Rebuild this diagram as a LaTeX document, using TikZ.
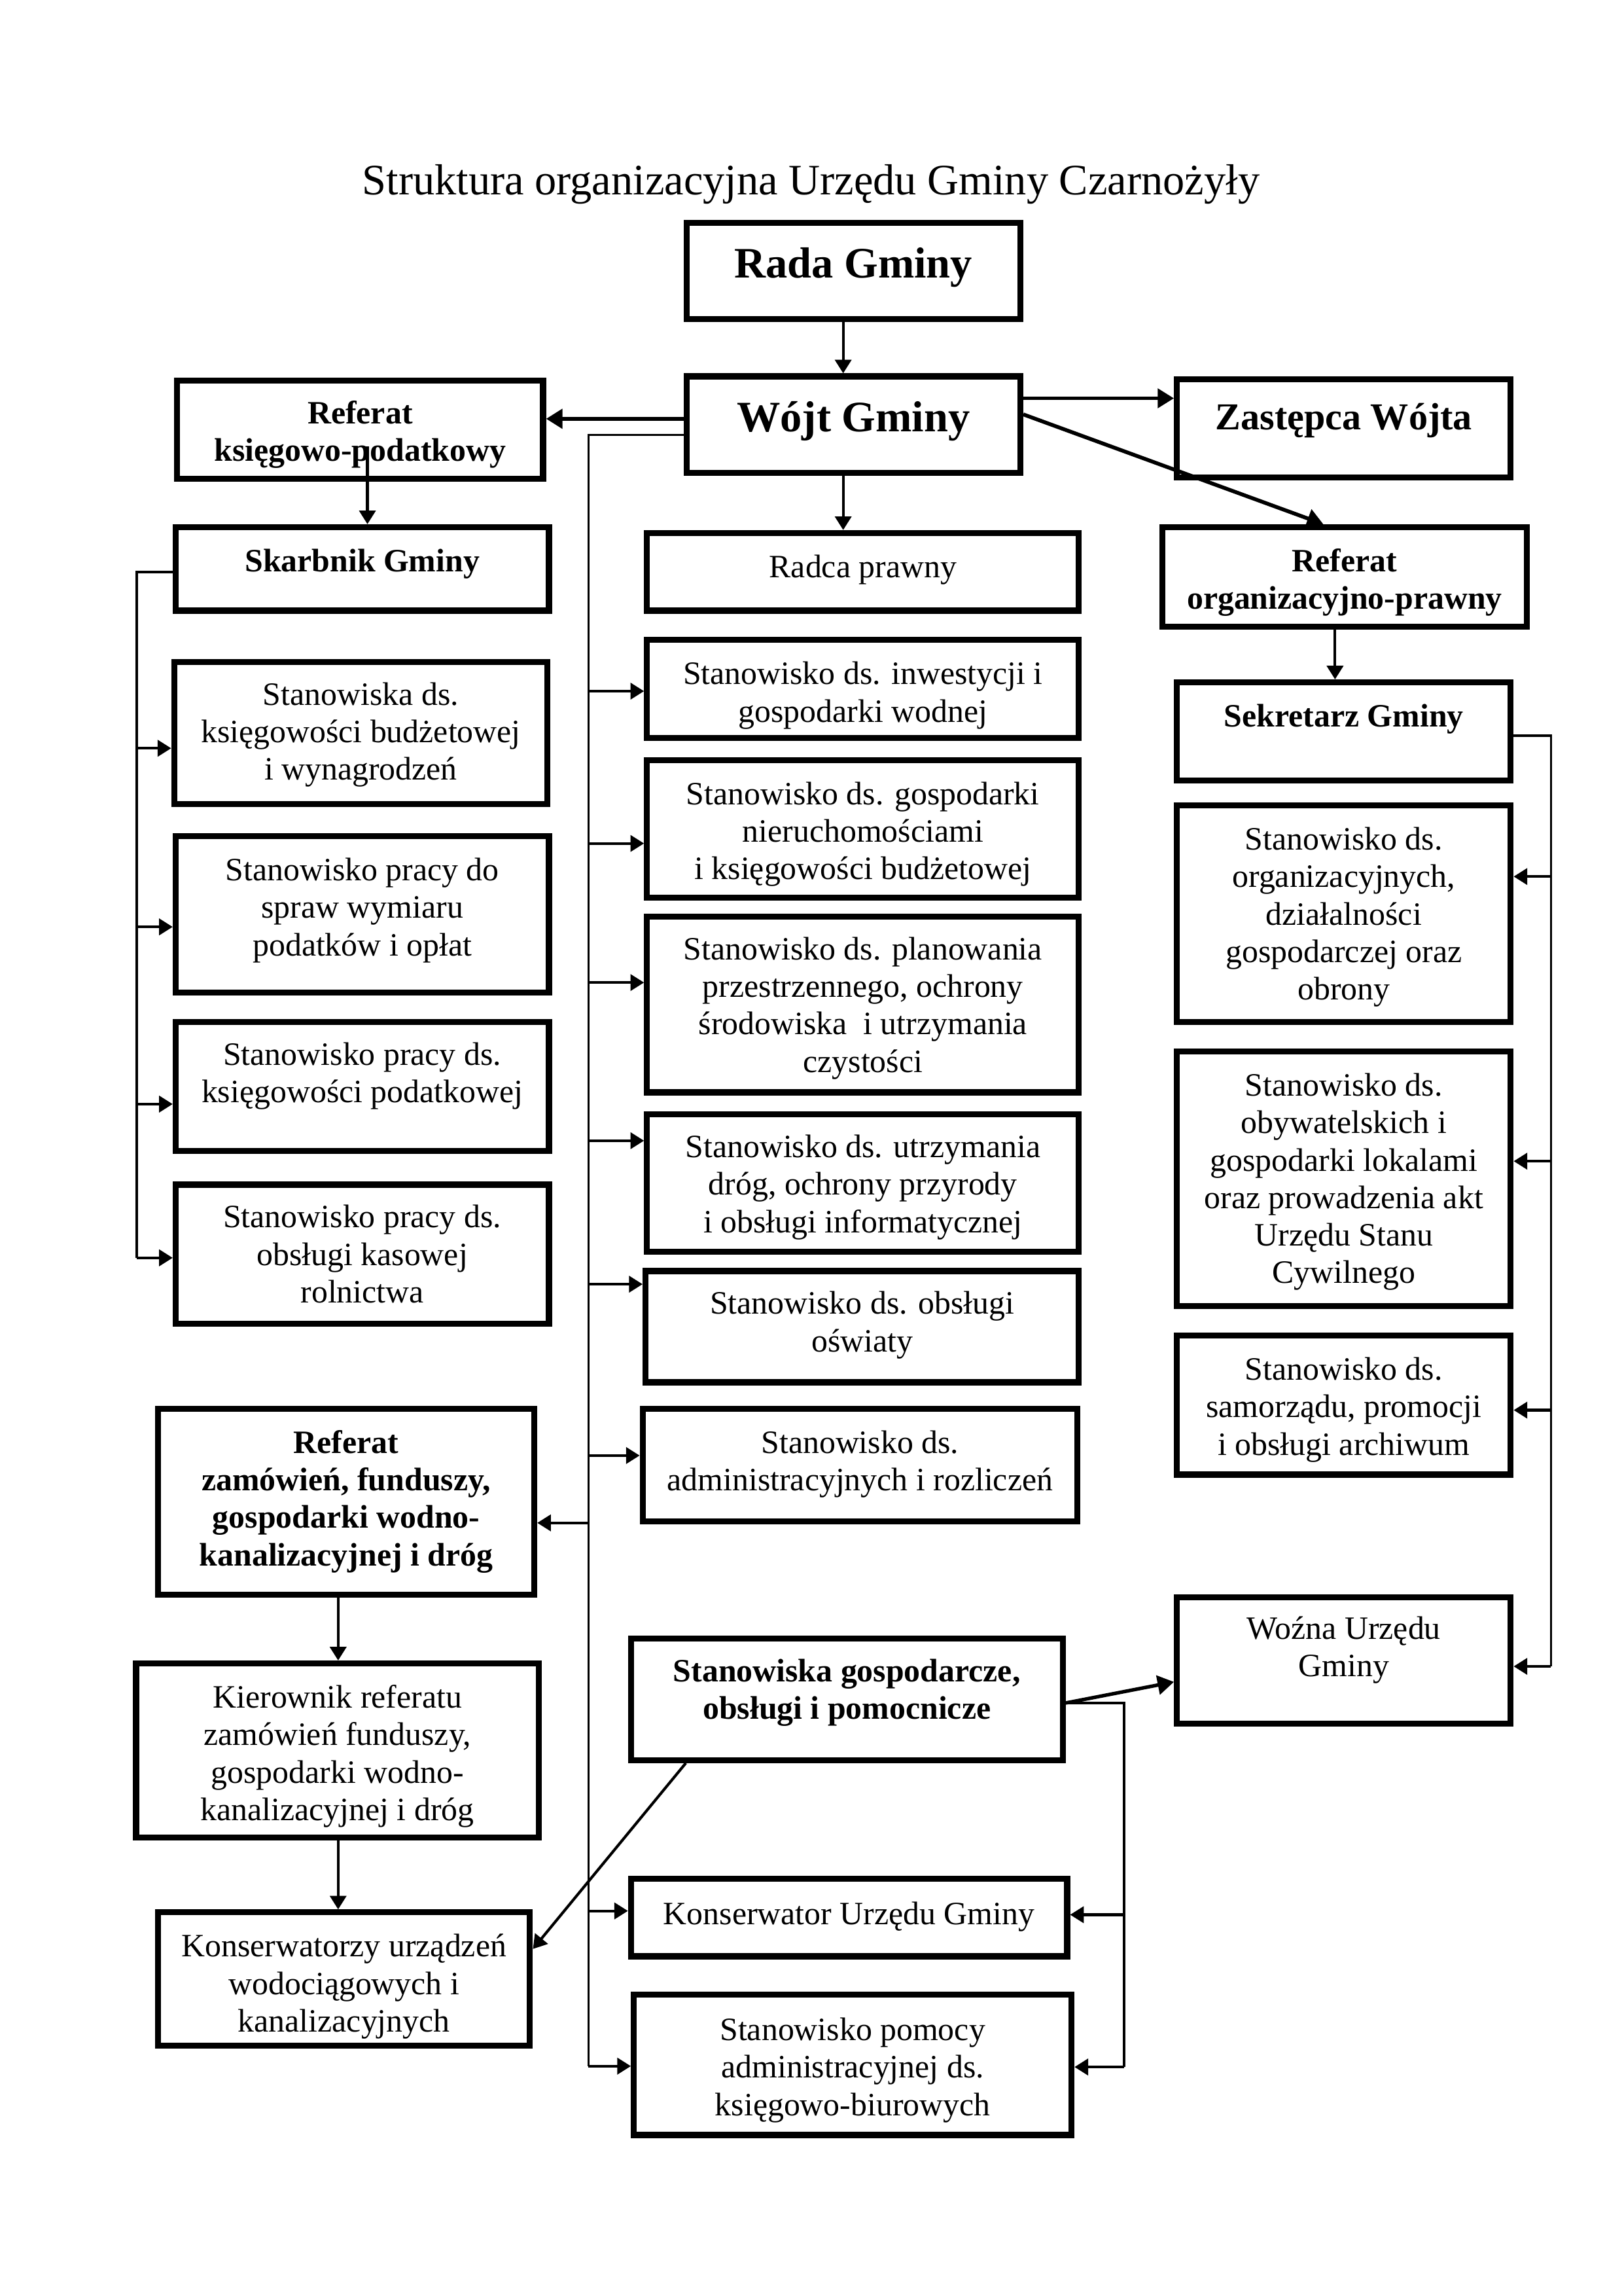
\documentclass[tikz,border=0pt]{standalone}
\usepackage{fontspec}
\setmainfont{Liberation Serif}
\usetikzlibrary{arrows.meta}
\newdimen\pxu \pxu=0.189359mm
\newcommand\tb[4]{\parbox[c][#2\pxu][t]{#1\pxu}{\centering\vspace*{#3\pxu}\strut#4\par}}
\tikzset{
  bx/.style={draw, line width=2.2pt, inner sep=0pt, font=\fontsize{12}{13.8}\selectfont},
  bxb/.style={bx, font=\fontsize{12}{13.8}\selectfont\bfseries},
  bxbig/.style={bx, font=\fontsize{16}{18.4}\selectfont\bfseries},
  bxmid/.style={bx, font=\fontsize{14}{16.1}\selectfont\bfseries},
  bus/.style={line width=0.9pt},
  arr/.style={line width=1pt, -{Triangle[length=5pt,width=6pt]}},
  tarr/.style={line width=1.4pt, -{Triangle[length=6pt,width=7pt]}},
}
\begin{document}
\begin{tikzpicture}[x=0.189359mm, y=-0.189359mm]
\useasboundingbox (0,0) rectangle (1109,1568);
\node[anchor=base, font=\fontsize{16}{18.4}\selectfont] (title) at (554,133) {Struktura organizacyjna Urzędu Gminy Czarnożyły};

% top
\node[bxbig] (rada) at (583,185) {\tb{228}{66}{14}{Rada Gminy}};
\node[bxbig] (wojt) at (583,290) {\tb{228}{66}{14}{Wójt Gminy}};
\node[bxmid] (zast) at (918,292.5) {\tb{228}{67}{13.6}{Zastępca Wójta}};
\node[bxb] (refks) at (246,293.5) {\tb{250}{67}{11.5}{Referat\\ księgowo-podatkowy}};
\node[bxb] (skarb) at (247.5,388.5) {\tb{255}{57}{12.5}{Skarbnik Gminy}};
\node[bx] (radca) at (589.5,390.5) {\tb{295}{53}{12.5}{Radca prawny}};
\node[bxb] (reforg) at (918.5,394) {\tb{249}{68}{12.5}{Referat\\ organizacyjno-prawny}};

% left column
\node[bx] (ks1) at (246.5,500.5) {\tb{255}{97}{11.5}{Stanowiska ds.\\ księgowości budżetowej\\ i wynagrodzeń}};
\node[bx] (ks2) at (247.5,624.5) {\tb{255}{107}{12.5}{Stanowisko pracy do\\ spraw wymiaru\\ podatków i opłat}};
\node[bx] (ks3) at (247.5,742) {\tb{255}{88}{11.5}{Stanowisko pracy ds.\\ księgowości podatkowej}};
\node[bx] (ks4) at (247.5,856.5) {\tb{255}{95}{11.5}{Stanowisko pracy ds.\\ obsługi kasowej\\ rolnictwa}};

% middle column
\node[bx] (m1) at (589.5,470.5) {\tb{295}{67}{12.5}{Stanowisko ds. inwestycji i\\ gospodarki wodnej}};
\node[bx] (m2) at (589.5,566) {\tb{295}{94}{12.5}{Stanowisko ds. gospodarki\\ nieruchomościami\\ i księgowości budżetowej}};
\node[bx] (m3) at (589.5,686) {\tb{295}{120}{11.5}{Stanowisko ds. planowania\\ przestrzennego, ochrony\\ środowiska~ i utrzymania\\ czystości}};
\node[bx] (m4) at (589.5,808) {\tb{295}{94}{11.5}{Stanowisko ds. utrzymania\\ dróg, ochrony przyrody\\ i obsługi informatycznej}};
\node[bx] (m5) at (589,906) {\tb{296}{76}{11.5}{Stanowisko ds. obsługi\\ oświaty}};
\node[bx] (m6) at (587.5,1000.5) {\tb{297}{77}{12.5}{Stanowisko ds.\\ administracyjnych i rozliczeń}};

% right column
\node[bxb] (sek) at (918,499.5) {\tb{228}{67}{12.5}{Sekretarz Gminy}};
\node[bx] (r1) at (918,624) {\tb{228}{148}{12.5}{Stanowisko ds.\\ organizacyjnych,\\ działalności\\ gospodarczej oraz\\ obrony}};
\node[bx] (r2) at (918,805) {\tb{228}{174}{12.5}{Stanowisko ds.\\ obywatelskich i\\ gospodarki lokalami\\ oraz prowadzenia akt\\ Urzędu Stanu\\ Cywilnego}};
\node[bx] (r3) at (918,959.5) {\tb{228}{95}{12.5}{Stanowisko ds.\\ samorządu, promocji\\ i obsługi archiwum}};
\node[bx] (wozna) at (918,1134) {\tb{228}{86}{10.5}{Woźna Urzędu\\ Gminy}};

% lower left
\node[bxb] (refzam) at (236.5,1025.5) {\tb{257}{127}{12.5}{Referat\\ zamówień, funduszy,\\ gospodarki wodno-\\ kanalizacyjnej i dróg}};
\node[bx] (kier) at (230.5,1195.5) {\tb{275}{119}{12.5}{Kierownik referatu\\ zamówień funduszy,\\ gospodarki wodno-\\ kanalizacyjnej i dróg}};
\node[bx] (kons) at (235,1351.5) {\tb{254}{91}{12.5}{Konserwatorzy urządzeń\\ wodociągowych i\\ kanalizacyjnych}};

% lower middle
\node[bxb] (gosp) at (578.5,1160.5) {\tb{295}{83}{11.5}{Stanowiska gospodarcze,\\ obsługi i pomocnicze}};
\node[bx] (konsug) at (580,1309.5) {\tb{298}{53}{13.5}{Konserwator Urzędu Gminy}};
\node[bx] (pom) at (582.5,1410) {\tb{299}{96}{13.5}{Stanowisko pomocy\\ administracyjnej ds.\\ księgowo-biurowych}};

% bus coordinates
\coordinate (mbt) at (402,297);
\coordinate (mbb) at (402,1411);
\coordinate (lbt) at (93.5,390.6);
\coordinate (lbb) at (93.5,859);
\coordinate (rbt) at (1059.5,502.5);
\coordinate (rbb) at (1059.5,1138);
\coordinate (gbt) at (768,1163);
\coordinate (gbb) at (768,1411.6);

% top connectors
\draw[arr] (rada.south -| 576,0) -- (wojt.north -| 576,0);
\draw[arr] (wojt.south -| 576,0) -- (radca.north -| 576,0);
\draw[tarr] (wojt.east |- 0,272) -- (zast.west |- 0,272);
\draw[tarr] (wojt.east |- 0,283) -- (reforg.north -| 904,0);
\draw[tarr, line width=1.6pt] (wojt.west |- 0,286) -- (refks.east |- 0,286);
\draw[arr] (251,305) -- (skarb.north -| 251,0);
\draw[arr] (reforg.south -| 912,0) -- (sek.north -| 912,0);

% middle bus
\draw[bus] (wojt.west |- mbt) -- (mbt) -- (mbb);
\draw[arr] (mbt |- 0,472) -- (m1.west |- 0,472);
\draw[arr] (mbt |- 0,576) -- (m2.west |- 0,576);
\draw[arr] (mbt |- 0,671) -- (m3.west |- 0,671);
\draw[arr] (mbt |- 0,779) -- (m4.west |- 0,779);
\draw[arr] (mbt |- 0,877) -- (m5.west |- 0,877);
\draw[arr] (mbt |- 0,994) -- (m6.west |- 0,994);
\draw[arr] (mbt |- 0,1040) -- (refzam.east |- 0,1040);
\draw[arr] (mbt |- 0,1305) -- (konsug.west |- 0,1305);
\draw[arr] (mbb) -- (pom.west |- mbb);

% left bus
\draw[bus] (skarb.west |- lbt) -- (lbt) -- (lbb);
\draw[arr] (lbt |- 0,511) -- (ks1.west |- 0,511);
\draw[arr] (lbt |- 0,633) -- (ks2.west |- 0,633);
\draw[arr] (lbt |- 0,754) -- (ks3.west |- 0,754);
\draw[arr] (lbb) -- (ks4.west |- lbb);

% right bus
\draw[bus] (sek.east |- rbt) -- (rbt) -- (rbb);
\draw[arr] (rbt |- 0,598.6) -- (r1.east |- 0,598.6);
\draw[arr] (rbt |- 0,793) -- (r2.east |- 0,793);
\draw[arr] (rbt |- 0,963) -- (r3.east |- 0,963);
\draw[arr] (rbb) -- (wozna.east |- rbb);

% lower left chain
\draw[arr] (refzam.south -| 231,0) -- (kier.north -| 231,0);
\draw[arr] (kier.south -| 231,0) -- (kons.north -| 231,0);

% stanowiska gospodarcze
\draw[arr] (gosp.south -| 468.5,0) -- (kons.east |- 0,1331);
\draw[tarr, line width=1.3pt] (gosp.east |- gbt) -- (wozna.west |- 0,1148.6);
\draw[bus] (gosp.east |- gbt) -- (gbt) -- (gbb);
\draw[arr] (gbt |- 0,1307.6) -- (konsug.east |- 0,1307.6);
\draw[arr] (gbb) -- (pom.east |- gbb);
\end{tikzpicture}
\end{document}
